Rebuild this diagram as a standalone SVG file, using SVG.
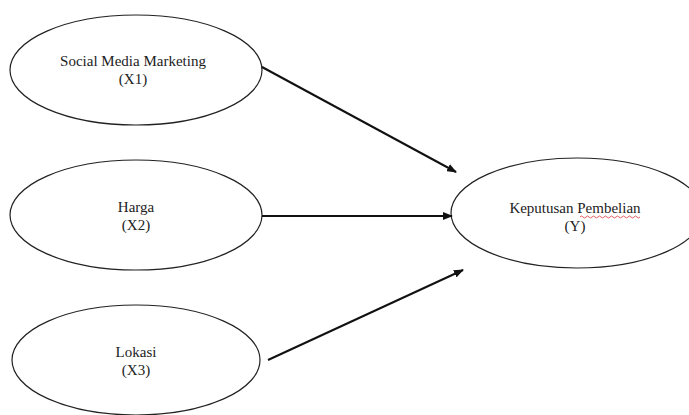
<svg xmlns="http://www.w3.org/2000/svg" width="689" height="415" viewBox="0 0 689 415">
<style>
.node ellipse{fill:#fff;stroke:#222;stroke-width:1.2}
.node text{font-family:"Liberation Serif","DejaVu Serif",serif;font-size:15px;fill:#222;text-anchor:middle}
.edge{stroke:#111;stroke-width:2;fill:none;marker-end:url(#ah)}
</style>
<defs>
<marker id="ah" markerWidth="10" markerHeight="8" refX="9" refY="4" orient="auto" markerUnits="userSpaceOnUse">
<path d="M0,0 L10,4 L0,8 Z" fill="#111"/>
</marker>
</defs>
<rect width="689" height="415" fill="#fff"/>
<g id="n1" class="node">
<ellipse cx="136" cy="70" rx="126" ry="55"/>
<text x="133" y="66">Social Media Marketing</text>
<text x="133" y="84">(X1)</text>
</g>
<g id="n2" class="node">
<ellipse cx="136" cy="215" rx="126" ry="55"/>
<text x="136" y="212">Harga</text>
<text x="136" y="230">(X2)</text>
</g>
<g id="n3" class="node">
<ellipse cx="136" cy="360" rx="124" ry="55"/>
<text x="136" y="357">Lokasi</text>
<text x="136" y="375">(X3)</text>
</g>
<g id="n4" class="node">
<ellipse cx="577" cy="213" rx="126" ry="55"/>
<text x="575" y="213">Keputusan Pembelian</text>
<text x="575" y="231">(Y)</text>
<path d="M580,217 q1.5,-2 3,0 t3,0 t3,0 t3,0 t3,0 t3,0 t3,0 t3,0 t3,0 t3,0 t3,0 t3,0 t3,0 t3,0 t3,0 t3,0 t3,0 t3,0 t3,0 t3,0" stroke="#d33" stroke-width="0.8" fill="none"/>
</g>
<g id="connectors">
<path class="edge" d="M262,67 L456,172"/>
<path class="edge" d="M262,216 L452,216"/>
<path class="edge" d="M268,360 L463,270"/>
</g>
</svg>
